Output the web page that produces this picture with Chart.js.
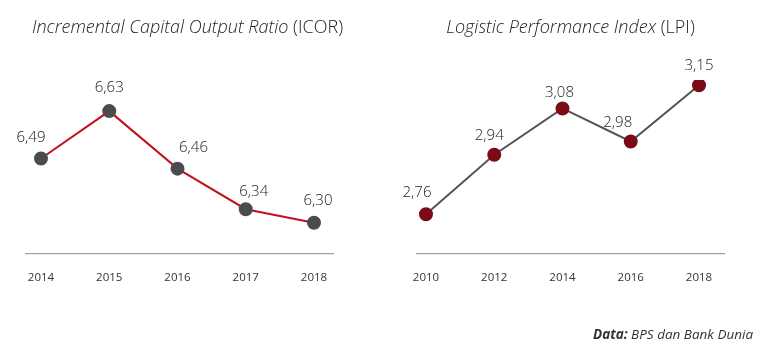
<!DOCTYPE html>
<html>
<head>
<meta charset="utf-8">
<script src="https://cdn.jsdelivr.net/npm/chart.js@4.4.1/dist/chart.umd.min.js"></script>
<style>
  body { margin: 0; background: #fff; font-family: 'Open Sans', sans-serif; color: #333; }
  #wrap { position: relative; width: 770px; height: 353px; overflow: hidden; }
  .box { position: absolute; top: 0; width: 385px; height: 353px; }
  .title { position: absolute; top: 14px; width: 385px; text-align: center; font-size: 18px; font-weight: 300; color: #222; white-space: nowrap; }
  .title i { font-style: italic; }
  #note { position: absolute; left: 593px; top: 325px; font-size: 13.5px; font-style: italic; color: #333; }
</style>
</head>
<body>
<div id="wrap">
  <div class="box" style="left:0"><canvas id="icor"></canvas></div>
  <div class="box" style="left:385px"><canvas id="lpi"></canvas></div>
  <div class="title" style="left:-5px"><i>Incremental Capital Output Ratio</i> (ICOR)</div>
  <div class="title" style="left:378px"><i>Logistic Performance Index</i> (LPI)</div>
  <div id="note"><b>Data:</b> BPS dan Bank Dunia</div>
</div>
<script>
// ICOR
var icorYears = ['2014', '2015', '2016', '2017', '2018'];
var icorValues = [6.49, 6.63, 6.46, 6.34, 6.30];
// LPI
var lpiYears = ['2010', '2012', '2014', '2016', '2018'];
var lpiValues = [2.76, 2.94, 3.08, 2.98, 3.15];

// label offsets from the point (dx, dy)
var icorLabelPos = [[-10, -21], [0, -23], [16, -21], [8, -17], [4, -22]];
var lpiLabelPos = [[-9, -21], [-5, -19], [-3, -16], [-13, -19], [0, -20]];

var valueLabels = {
  id: 'valueLabels',
  afterDatasetsDraw: function(chart, args, opts) {
    var ctx = chart.ctx;
    var meta = chart.getDatasetMeta(0);
    var vals = chart.data.datasets[0].data;
    ctx.save();
    ctx.font = '300 15px "Open Sans"';
    ctx.fillStyle = '#222';
    ctx.textAlign = 'center';
    ctx.textBaseline = 'middle';
    meta.data.forEach(function(pt, i) {
      var off = opts.pos[i];
      ctx.fillText(vals[i].toFixed(2).replace('.', ','), pt.x + off[0], pt.y + off[1]);
    });
    ctx.restore();
  },
  afterDraw: function(chart, args, opts) {
    var ctx = chart.ctx, a = chart.chartArea;
    ctx.save();
    ctx.strokeStyle = '#888';
    ctx.lineWidth = 1;
    ctx.beginPath();
    ctx.moveTo(a.left - opts.ext[0], a.bottom + 0.5);
    ctx.lineTo(a.right + opts.ext[1], a.bottom + 0.5);
    ctx.stroke();
    ctx.restore();
  }
};

function makeChart(id, labels, values, lineColor, dotColor, yMin, yMax, pos, ext) {
  return new Chart(document.getElementById(id).getContext('2d'), {
    type: 'line',
    data: {
      labels: labels,
      datasets: [{
        data: values,
        borderColor: lineColor,
        borderWidth: 2,
        pointBackgroundColor: dotColor,
        pointBorderColor: dotColor,
        pointRadius: 6,
        tension: 0,
        fill: false
      }]
    },
    options: {
      responsive: false,
      animation: false,
      layout: { padding: { top: 80, left: 41, right: 71, bottom: 50 } },
      plugins: {
        legend: { display: false },
        tooltip: { enabled: false },
        valueLabels: { pos: pos, ext: ext }
      },
      scales: {
        x: {
          offset: false,
          grid: { display: false, drawTicks: false },
          border: { display: false },
          ticks: { color: '#333', font: { family: 'Open Sans', size: 11.5 }, padding: 18 }
        },
        y: { display: false, min: yMin, max: yMax }
      }
    },
    plugins: [valueLabels]
  });
}

document.getElementById('icor').width = 385;
document.getElementById('icor').height = 353;
document.getElementById('lpi').width = 385;
document.getElementById('lpi').height = 353;

makeChart('icor', icorYears, icorValues, '#c1121f', '#4b4b4d', 6.21, 6.722, icorLabelPos, [16, 20]);
makeChart('lpi', lpiYears, lpiValues, '#555555', '#7b0b17', 2.642, 3.166, lpiLabelPos, [10, 26]);
</script>
</body>
</html>
